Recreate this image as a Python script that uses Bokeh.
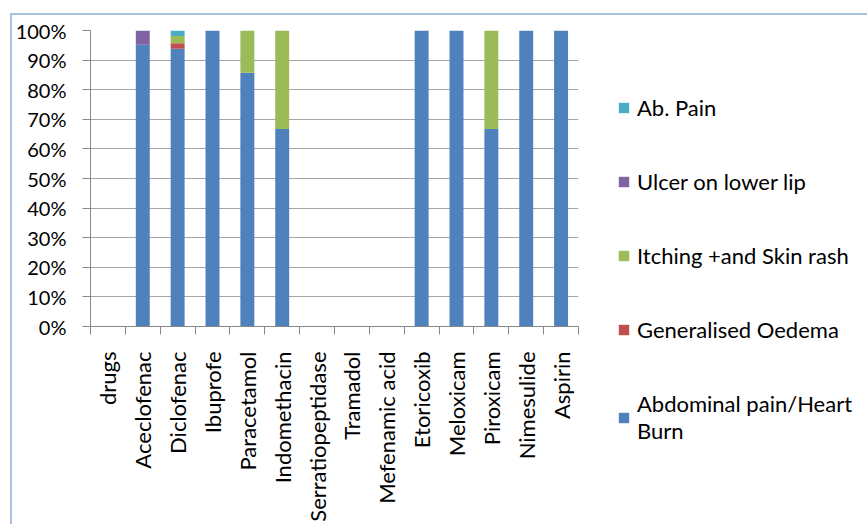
import math
from bokeh.plotting import figure
from bokeh.models import (FixedTicker, CustomJSTickFormatter, PrintfTickFormatter,
                          Range1d, Legend, LegendItem, ColumnDataSource)
from bokeh.embed import file_html
from bokeh.resources import INLINE

categories = ["drugs", "Aceclofenac", "Diclofenac", "Ibuprofe", "Paracetamol",
              "Indomethacin", "Serratiopeptidase", "Tramadol", "Mefenamic acid",
              "Etoricoxib", "Meloxicam", "Piroxicam", "Nimesulide", "Aspirin"]
abdominal = [0, 95.2, 93.8, 100, 85.7, 66.7, 0, 0, 0, 100, 100, 66.7, 100, 100]
oedema    = [0, 0,    1.9,  0,   0,    0,    0, 0, 0, 0,   0,   0,    0,   0]
itching   = [0, 0,    2.4,  0,   14.3, 33.3, 0, 0, 0, 0,   0,   33.3, 0,   0]
ulcer     = [0, 4.8,  0,    0,   0,    0,    0, 0, 0, 0,   0,   0,    0,   0]
abpain    = [0, 0,    1.9,  0,   0,    0,    0, 0, 0, 0,   0,   0,    0,   0]
series_names = ["Abdominal pain/Heart\nBurn", "Generalised Oedema",
                "Itching +and Skin rash", "Ulcer on lower lip", "Ab. Pain"]
colors = ["#4F81BD", "#C0504D", "#9BBB59", "#8064A2", "#4BACC6"]
y_ticks = [0, 10, 20, 30, 40, 50, 60, 70, 80, 90, 100]

FONT = "Lato"
n = len(categories)
keys = ["abdominal", "oedema", "itching", "ulcer", "abpain"]
src = ColumnDataSource(dict(x=list(range(n)), abdominal=abdominal, oedema=oedema,
                            itching=itching, ulcer=ulcer, abpain=abpain))

p = figure(output_backend="svg", toolbar_location=None,
           x_range=Range1d(-0.5, n - 0.5), y_range=Range1d(0, 100),
           frame_width=488, frame_height=296,
           min_border_left=77, min_border_top=15, min_border_right=0,
           min_border_bottom=10)
p.styles = {"margin-left": "10px", "margin-top": "13px",
            "border-left": "2px solid #A9C2E0", "border-top": "2px solid #A9C2E0"}
p.outline_line_color = None
p.background_fill_color = "white"
p.border_fill_color = "white"

rs = p.vbar_stack(keys, x="x", width=0.4, source=src, color=colors, line_color=None)

p.xgrid.grid_line_color = None
p.ygrid.ticker = FixedTicker(ticks=y_ticks)
p.ygrid.grid_line_color = "#A6A6A6"
p.ygrid.grid_line_width = 1

xa = p.xaxis[0]
xa.ticker = FixedTicker(ticks=list(range(n)), minor_ticks=[i - 0.5 for i in range(n + 1)])
xa.formatter = CustomJSTickFormatter(args=dict(labels=categories),
                                     code="return labels[Math.round(tick)] || '';")
xa.major_tick_out = 0
xa.major_tick_in = 0
xa.minor_tick_out = 8
xa.minor_tick_in = 0
xa.minor_tick_line_color = "#888888"
xa.axis_line_color = "#888888"
xa.major_label_orientation = math.pi / 2
xa.major_label_standoff = 17
xa.major_label_text_font = FONT
xa.major_label_text_font_size = "22px"
xa.major_label_text_color = "#000000"

ya = p.yaxis[0]
ya.ticker = FixedTicker(ticks=y_ticks)
ya.formatter = PrintfTickFormatter(format="%d%%")
ya.major_tick_out = 8
ya.major_tick_in = 0
ya.minor_tick_out = 0
ya.minor_tick_in = 0
ya.major_tick_line_color = "#888888"
ya.axis_line_color = "#888888"
ya.major_label_standoff = 16
ya.major_label_text_font = FONT
ya.major_label_text_font_size = "20px"
ya.major_label_text_color = "#000000"

items = [LegendItem(label=series_names[i], renderers=[rs[i]]) for i in [4, 3, 2, 1, 0]]
legend = Legend(items=items, location=(39, -118), orientation="vertical",
                glyph_width=13, glyph_height=13, label_height=20, spacing=47,
                padding=0, margin=0, border_line_color=None,
                background_fill_alpha=0, label_standoff=7,
                label_text_font=FONT, label_text_font_size="22px",
                label_text_color="#000000", label_text_line_height=1.36)
p.add_layout(legend, "right")

open("out.html", "w").write(file_html(p, INLINE))
